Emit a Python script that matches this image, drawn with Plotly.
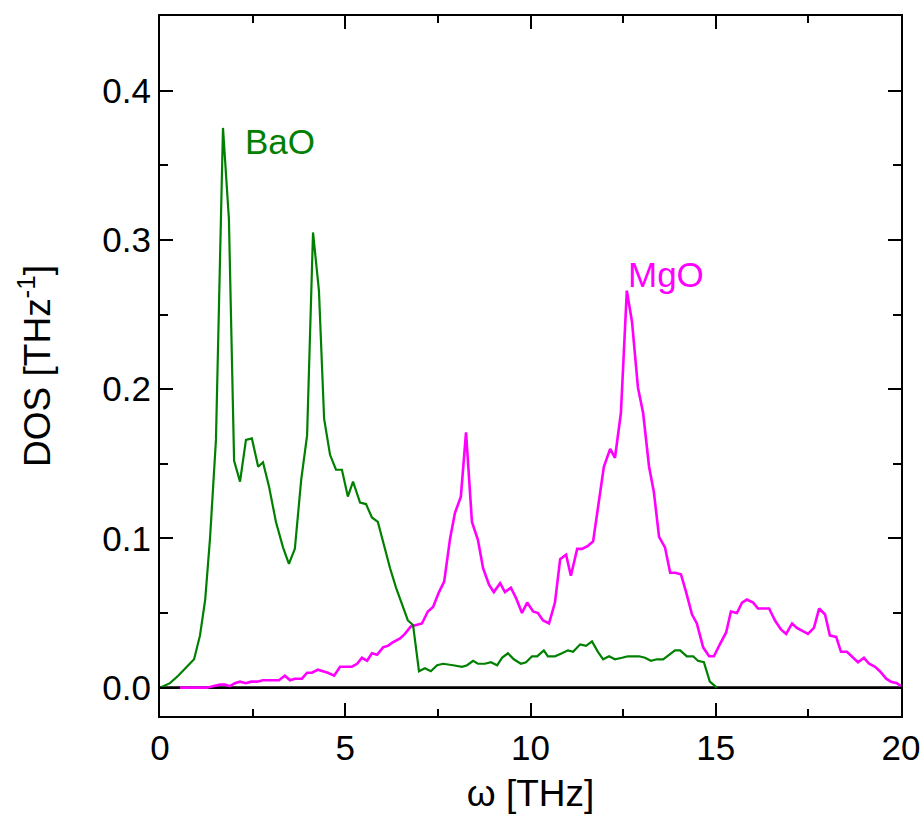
import plotly.graph_objects as go

# BaO phonon DOS
bao_w = [0.00, 0.27, 0.49, 0.73, 0.92, 1.08, 1.22, 1.35, 1.51, 1.70, 1.86, 2.00, 2.16, 2.32, 2.48,
         2.65, 2.78, 2.94, 3.13, 3.32, 3.48, 3.64, 3.81, 3.97, 4.13, 4.29, 4.43, 4.59, 4.75, 4.91,
         5.07, 5.21, 5.40, 5.56, 5.72, 5.88, 6.05, 6.21, 6.37, 6.53, 6.69, 6.83, 6.99, 7.15, 7.31,
         7.48, 7.64, 7.91, 8.15, 8.29, 8.45, 8.58, 8.77, 8.93, 9.10, 9.23, 9.39, 9.55, 9.74, 9.88,
         10.04, 10.18, 10.36, 10.47, 10.66, 10.85, 11.01, 11.15, 11.34, 11.50, 11.66, 11.82, 11.96,
         12.12, 12.28, 12.47, 12.63, 12.77, 12.93, 13.09, 13.25, 13.41, 13.58, 13.74, 13.90, 14.04,
         14.22, 14.39, 14.52, 14.68, 14.84, 15.03]
bao_dos = [0.000, 0.003, 0.008, 0.014, 0.019, 0.035, 0.059, 0.100, 0.166, 0.375, 0.314, 0.152, 0.138, 0.166, 0.167,
           0.148, 0.151, 0.135, 0.111, 0.094, 0.083, 0.093, 0.139, 0.169, 0.305, 0.266, 0.180, 0.156, 0.146, 0.146,
           0.128, 0.138, 0.124, 0.123, 0.114, 0.111, 0.094, 0.080, 0.067, 0.056, 0.045, 0.042, 0.011, 0.013, 0.011,
           0.015, 0.016, 0.015, 0.014, 0.015, 0.018, 0.016, 0.016, 0.017, 0.015, 0.020, 0.023, 0.019, 0.016, 0.017,
           0.021, 0.021, 0.025, 0.021, 0.021, 0.023, 0.025, 0.024, 0.029, 0.028, 0.031, 0.024, 0.019,
           0.021, 0.019, 0.020, 0.021, 0.021, 0.021, 0.020, 0.018, 0.019, 0.019, 0.022, 0.025, 0.025,
           0.021, 0.021, 0.018, 0.017, 0.004, 0.000]

# MgO phonon DOS
mgo_w = [0.54, 0.89, 1.27, 1.43, 1.62, 1.75, 1.89, 2.02, 2.16, 2.32, 2.46, 2.62, 2.78, 2.91, 3.10,
         3.21, 3.37, 3.51, 3.64, 3.83, 3.97, 4.10, 4.26, 4.40, 4.53, 4.70, 4.86, 5.05, 5.18, 5.32,
         5.45, 5.59, 5.72, 5.86, 6.02, 6.15, 6.26, 6.48, 6.61, 6.77, 6.91, 7.07, 7.23, 7.37, 7.53,
         7.67, 7.83, 7.96, 8.12, 8.26, 8.42, 8.58, 8.72, 8.88, 9.01, 9.18, 9.31, 9.47, 9.61, 9.77,
         9.91, 10.07, 10.20, 10.34, 10.50, 10.66, 10.80, 10.96, 11.09, 11.26, 11.39, 11.55, 11.69,
         11.85, 11.98, 12.15, 12.28, 12.44, 12.60, 12.74, 12.90, 13.04, 13.20, 13.33, 13.47, 13.63,
         13.77, 13.90, 14.06, 14.20, 14.36, 14.49, 14.66, 14.82, 14.95, 15.11, 15.28, 15.41, 15.57,
         15.71, 15.84, 16.01, 16.14, 16.30, 16.44, 16.60, 16.76, 16.90, 17.06, 17.19, 17.35, 17.49,
         17.65, 17.79, 17.95, 18.08, 18.25, 18.38, 18.54, 18.68, 18.84, 19.00, 19.14, 19.30, 19.43,
         19.60, 19.73, 19.89, 20.00]
mgo_dos = [0.000, 0.000, 0.000, 0.001, 0.002, 0.002, 0.001, 0.003, 0.004, 0.003, 0.004, 0.004, 0.005, 0.005, 0.005,
           0.005, 0.008, 0.005, 0.006, 0.006, 0.010, 0.010, 0.012, 0.011, 0.010, 0.008, 0.014, 0.014, 0.014, 0.016,
           0.020, 0.018, 0.023, 0.022, 0.027, 0.028, 0.030, 0.033, 0.036, 0.041, 0.042, 0.043, 0.051, 0.054, 0.064,
           0.071, 0.100, 0.117, 0.128, 0.171, 0.111, 0.099, 0.080, 0.069, 0.064, 0.070, 0.064, 0.067, 0.060, 0.050,
           0.057, 0.051, 0.050, 0.045, 0.043, 0.057, 0.086, 0.089, 0.075, 0.093, 0.093, 0.095, 0.098,
           0.126, 0.148, 0.160, 0.154, 0.184, 0.266, 0.245, 0.201, 0.184, 0.148, 0.131, 0.101, 0.094,
           0.077, 0.077, 0.076, 0.064, 0.049, 0.043, 0.027, 0.021, 0.021, 0.029, 0.037, 0.051, 0.050,
           0.057, 0.059, 0.057, 0.053, 0.053, 0.053, 0.045, 0.039, 0.036, 0.043, 0.040, 0.038, 0.036,
           0.040, 0.053, 0.049, 0.035, 0.034, 0.024, 0.024, 0.021, 0.017, 0.020, 0.016, 0.014, 0.011,
           0.006, 0.004, 0.003, 0.001]

x_ticks = [0, 5, 10, 15, 20]
y_ticks = [0.0, 0.1, 0.2, 0.3, 0.4]

GREEN = "#008000"
MAGENTA = "#ff00ff"
FONT = "Liberation Sans, Arial, sans-serif"

fig = go.Figure()
fig.add_trace(go.Scatter(x=[0, 20], y=[0, 0], mode="lines",
                         line=dict(color="black", width=2.8), showlegend=False, hoverinfo="skip"))
fig.add_trace(go.Scatter(x=mgo_w, y=mgo_dos, mode="lines", name="MgO",
                         line=dict(color=MAGENTA, width=2.6)))
fig.add_trace(go.Scatter(x=bao_w, y=bao_dos, mode="lines", name="BaO",
                         line=dict(color=GREEN, width=2.2)))

fig.add_annotation(x=3.24, y=0.366, text="BaO", showarrow=False,
                   font=dict(color=GREEN, size=35, family=FONT))
fig.add_annotation(x=13.65, y=0.277, text="MgO", showarrow=False,
                   font=dict(color=MAGENTA, size=35, family=FONT))

axis_common = dict(showline=True, linecolor="black", linewidth=2, mirror="ticks",
                   ticks="inside", ticklen=13, tickwidth=2, tickcolor="black",
                   showgrid=False, zeroline=False, automargin=False,
                   tickfont=dict(size=35, family=FONT, color="black"))

fig.update_xaxes(range=[0, 20], tickvals=x_ticks, ticktext=[str(v) for v in x_ticks],
                 minor=dict(dtick=2.5, tick0=0, ticks="inside", ticklen=7, tickwidth=2, tickcolor="black"),
                 title=dict(text="ω [THz]", font=dict(size=37, family=FONT, color="black"), standoff=14),
                 **axis_common)
fig.update_yaxes(range=[-0.019, 0.45], tickvals=y_ticks, ticktext=[f"{v:.1f}" for v in y_ticks],
                 minor=dict(dtick=0.05, tick0=0, ticks="inside", ticklen=8, tickwidth=2, tickcolor="black"),
                 title=dict(text="DOS [THz<sup>-1</sup>]", font=dict(size=37, family=FONT, color="black"), standoff=40),
                 **axis_common)

fig.update_layout(width=923, height=828, margin=dict(l=160, r=22, t=16, b=112),
                  plot_bgcolor="white", paper_bgcolor="white", showlegend=False)

fig.write_html("out.html")
